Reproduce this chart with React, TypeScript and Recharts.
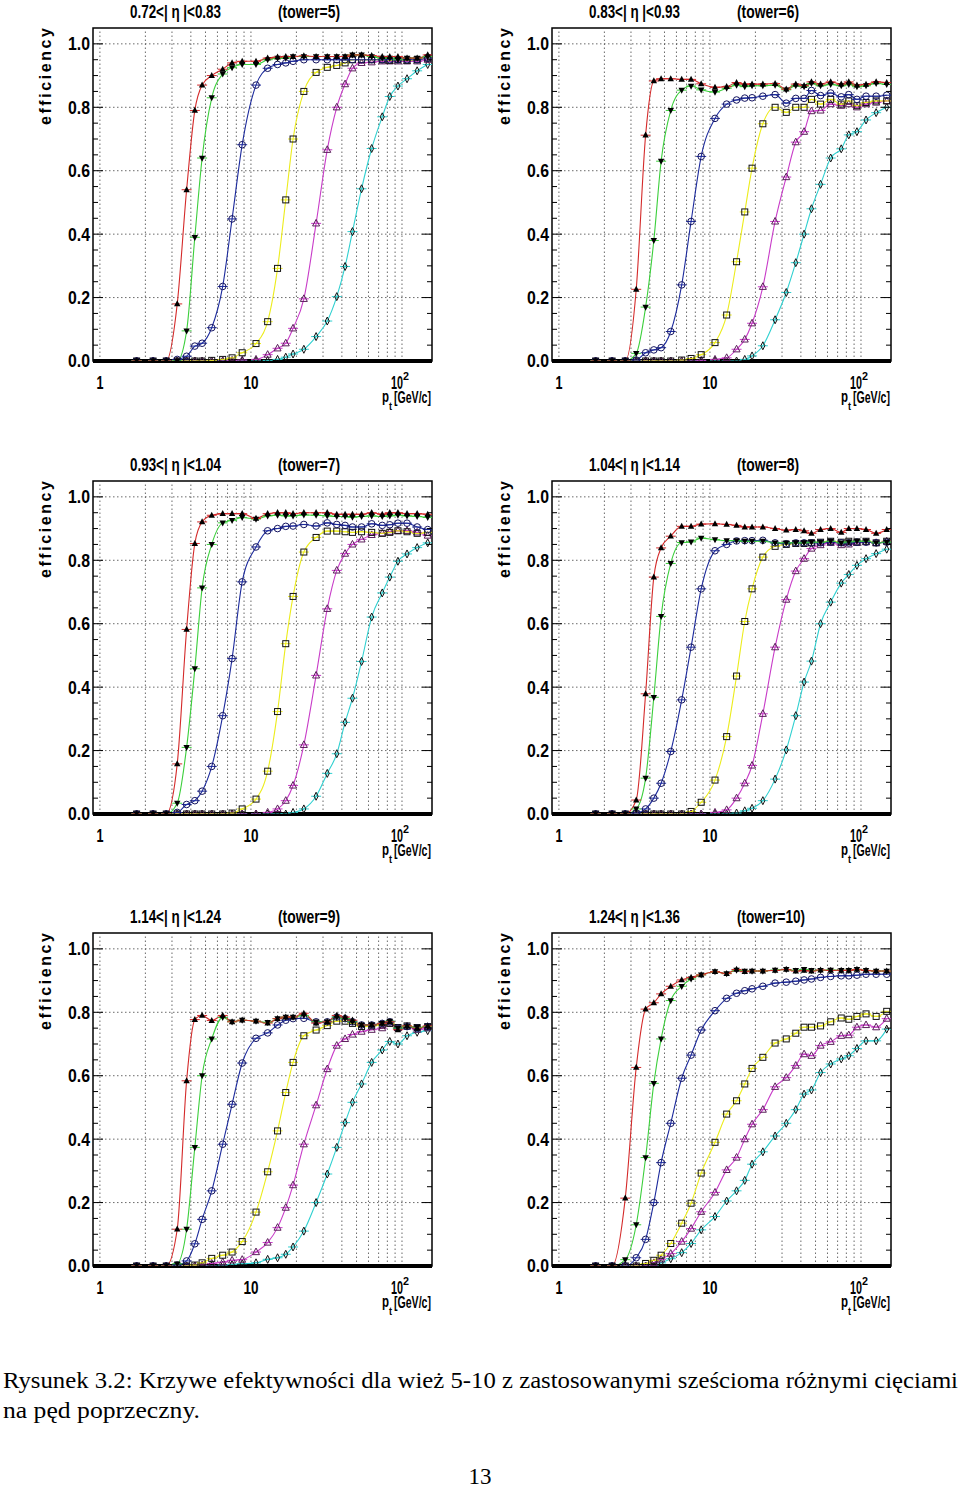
import React from "react";
import { LineChart, Line, XAxis, YAxis, ReferenceLine, ReferenceArea } from "recharts";

// pt bin centres [GeV/c], shared by all towers
const PT = [1.75, 2.25, 2.75, 3.25, 3.75, 4.25, 4.75, 5.5, 6.5, 7.5, 8.75, 10.8, 12.9, 15, 17, 19, 22.4, 27, 32, 37, 42, 47, 54, 63, 74, 83, 94, 108, 126, 148];

// tower 5
const T5_RED = [0, 0, 0, 0.18, 0.54, 0.79, 0.87, 0.9, 0.92, 0.94, 0.945, 0.945, 0.955, 0.958, 0.96, 0.96, 0.962, 0.96, 0.96, 0.96, 0.96, 0.965, 0.965, 0.963, 0.96, 0.96, 0.96, 0.955, 0.955, 0.965];
const T5_GREEN = [0, 0, 0, 0, 0.095, 0.39, 0.64, 0.83, 0.905, 0.925, 0.935, 0.935, 0.95, 0.955, 0.955, 0.96, 0.96, 0.96, 0.96, 0.96, 0.96, 0.965, 0.965, 0.96, 0.955, 0.955, 0.95, 0.955, 0.955, 0.96];
const T5_BLUE = [0, 0, 0, 0.005, 0.015, 0.047, 0.056, 0.105, 0.235, 0.448, 0.682, 0.87, 0.923, 0.935, 0.94, 0.945, 0.95, 0.95, 0.95, 0.95, 0.95, 0.95, 0.95, 0.95, 0.95, 0.95, 0.95, 0.95, 0.95, 0.955];
const T5_YELLOW = [0, 0, 0, 0, 0, 0, 0, 0.002, 0.005, 0.01, 0.026, 0.055, 0.124, 0.292, 0.508, 0.7, 0.85, 0.91, 0.926, 0.932, 0.94, 0.95, 0.95, 0.95, 0.95, 0.948, 0.95, 0.948, 0.95, 0.955];
const T5_MAGENTA = [0, 0, 0, 0, 0, 0, 0, 0, 0, 0.002, 0.003, 0.005, 0.02, 0.04, 0.056, 0.103, 0.196, 0.434, 0.666, 0.8, 0.873, 0.923, 0.94, 0.942, 0.945, 0.945, 0.945, 0.945, 0.945, 0.95];
const T5_CYAN = [0, 0, 0, 0, 0, 0, 0, 0, 0, 0, 0, 0, 0.002, 0.005, 0.012, 0.022, 0.037, 0.077, 0.126, 0.203, 0.298, 0.408, 0.543, 0.67, 0.77, 0.834, 0.867, 0.89, 0.915, 0.935];

// tower 6
const T6_RED = [0, 0, 0, 0.226, 0.712, 0.883, 0.89, 0.89, 0.888, 0.888, 0.874, 0.863, 0.865, 0.878, 0.873, 0.873, 0.873, 0.875, 0.857, 0.873, 0.868, 0.88, 0.873, 0.88, 0.873, 0.88, 0.87, 0.872, 0.88, 0.878];
const T6_GREEN = [0, 0, 0, 0.024, 0.17, 0.38, 0.63, 0.79, 0.854, 0.867, 0.855, 0.848, 0.86, 0.87, 0.865, 0.868, 0.868, 0.87, 0.855, 0.868, 0.865, 0.875, 0.868, 0.872, 0.868, 0.872, 0.865, 0.868, 0.875, 0.872];
const T6_BLUE = [0, 0, 0, 0.003, 0.026, 0.035, 0.042, 0.093, 0.24, 0.44, 0.645, 0.765, 0.81, 0.823, 0.829, 0.83, 0.835, 0.84, 0.813, 0.828, 0.828, 0.853, 0.837, 0.845, 0.833, 0.84, 0.825, 0.835, 0.835, 0.838];
const T6_YELLOW = [0, 0, 0, 0, 0, 0, 0, 0, 0.003, 0.008, 0.02, 0.058, 0.145, 0.313, 0.47, 0.608, 0.748, 0.8, 0.784, 0.8, 0.8, 0.825, 0.81, 0.825, 0.81, 0.82, 0.805, 0.815, 0.82, 0.82];
const T6_MAGENTA = [0, 0, 0, 0, 0, 0, 0, 0, 0, 0, 0.002, 0.005, 0.01, 0.037, 0.068, 0.119, 0.234, 0.44, 0.58, 0.69, 0.723, 0.788, 0.79, 0.81, 0.805, 0.81, 0.8, 0.81, 0.815, 0.82];
const T6_CYAN = [0, 0, 0, 0, 0, 0, 0, 0, 0, 0, 0, 0, 0, 0, 0.005, 0.016, 0.048, 0.13, 0.216, 0.31, 0.4, 0.48, 0.557, 0.64, 0.669, 0.713, 0.723, 0.76, 0.783, 0.8];

// tower 7
const T7_RED = [0, 0, 0, 0.158, 0.582, 0.853, 0.921, 0.942, 0.947, 0.947, 0.947, 0.932, 0.947, 0.95, 0.95, 0.947, 0.95, 0.95, 0.95, 0.945, 0.945, 0.945, 0.945, 0.95, 0.945, 0.95, 0.95, 0.947, 0.947, 0.945];
const T7_GREEN = [0, 0, 0, 0.034, 0.21, 0.458, 0.713, 0.85, 0.918, 0.926, 0.935, 0.93, 0.94, 0.942, 0.94, 0.94, 0.943, 0.942, 0.94, 0.938, 0.938, 0.936, 0.938, 0.94, 0.938, 0.94, 0.942, 0.94, 0.938, 0.935];
const T7_BLUE = [0, 0, 0, 0.005, 0.03, 0.042, 0.072, 0.15, 0.31, 0.49, 0.732, 0.842, 0.893, 0.9, 0.907, 0.908, 0.913, 0.908, 0.918, 0.913, 0.91, 0.905, 0.905, 0.915, 0.91, 0.912, 0.917, 0.917, 0.905, 0.897];
const T7_YELLOW = [0, 0, 0, 0, 0, 0, 0, 0, 0, 0.003, 0.016, 0.047, 0.135, 0.323, 0.537, 0.686, 0.826, 0.872, 0.892, 0.892, 0.89, 0.888, 0.89, 0.888, 0.885, 0.888, 0.893, 0.89, 0.885, 0.888];
const T7_MAGENTA = [0, 0, 0, 0, 0, 0, 0, 0, 0, 0, 0, 0, 0.005, 0.016, 0.042, 0.09, 0.218, 0.437, 0.647, 0.768, 0.821, 0.85, 0.866, 0.88, 0.885, 0.89, 0.893, 0.893, 0.888, 0.878];
const T7_CYAN = [0, 0, 0, 0, 0, 0, 0, 0, 0, 0, 0, 0, 0, 0, 0, 0.005, 0.016, 0.056, 0.128, 0.19, 0.289, 0.365, 0.481, 0.621, 0.697, 0.747, 0.797, 0.82, 0.84, 0.855];

// tower 8
const T8_RED = [0, 0, 0, 0.044, 0.379, 0.747, 0.839, 0.876, 0.907, 0.907, 0.914, 0.915, 0.913, 0.91, 0.905, 0.905, 0.905, 0.9, 0.895, 0.897, 0.893, 0.885, 0.897, 0.9, 0.888, 0.9, 0.9, 0.897, 0.885, 0.897];
const T8_GREEN = [0, 0, 0, 0.016, 0.113, 0.368, 0.623, 0.79, 0.856, 0.858, 0.87, 0.865, 0.862, 0.862, 0.86, 0.86, 0.86, 0.855, 0.855, 0.855, 0.855, 0.857, 0.857, 0.86, 0.855, 0.858, 0.86, 0.86, 0.855, 0.857];
const T8_BLUE = [0, 0, 0, 0.003, 0.016, 0.05, 0.097, 0.197, 0.36, 0.526, 0.71, 0.83, 0.85, 0.861, 0.862, 0.862, 0.863, 0.855, 0.852, 0.855, 0.855, 0.855, 0.855, 0.857, 0.855, 0.855, 0.857, 0.857, 0.855, 0.857];
const T8_YELLOW = [0, 0, 0, 0, 0, 0, 0, 0, 0, 0.008, 0.037, 0.107, 0.244, 0.435, 0.607, 0.71, 0.81, 0.844, 0.85, 0.853, 0.853, 0.855, 0.857, 0.86, 0.857, 0.86, 0.858, 0.86, 0.855, 0.86];
const T8_MAGENTA = [0, 0, 0, 0, 0, 0, 0, 0, 0, 0, 0, 0.005, 0.013, 0.05, 0.097, 0.153, 0.316, 0.526, 0.676, 0.766, 0.805, 0.837, 0.848, 0.855, 0.848, 0.85, 0.855, 0.857, 0.855, 0.86];
const T8_CYAN = [0, 0, 0, 0, 0, 0, 0, 0, 0, 0, 0, 0, 0, 0.003, 0.01, 0.018, 0.042, 0.11, 0.202, 0.31, 0.416, 0.482, 0.6, 0.668, 0.728, 0.755, 0.784, 0.805, 0.821, 0.835];

// tower 9
const T9_RED = [0, 0, 0, 0.116, 0.584, 0.777, 0.79, 0.774, 0.79, 0.77, 0.775, 0.772, 0.766, 0.78, 0.785, 0.785, 0.797, 0.766, 0.77, 0.79, 0.785, 0.775, 0.76, 0.76, 0.765, 0.77, 0.745, 0.757, 0.75, 0.757];
const T9_GREEN = [0, 0, 0, 0.007, 0.116, 0.374, 0.6, 0.716, 0.784, 0.77, 0.775, 0.772, 0.768, 0.78, 0.785, 0.785, 0.79, 0.77, 0.77, 0.785, 0.78, 0.77, 0.76, 0.76, 0.765, 0.772, 0.75, 0.755, 0.752, 0.755];
const T9_BLUE = [0, 0, 0, 0.003, 0.016, 0.07, 0.147, 0.237, 0.384, 0.51, 0.64, 0.718, 0.735, 0.76, 0.775, 0.78, 0.781, 0.77, 0.77, 0.785, 0.78, 0.77, 0.76, 0.76, 0.765, 0.77, 0.75, 0.755, 0.75, 0.755];
const T9_YELLOW = [0, 0, 0, 0, 0, 0.003, 0.01, 0.024, 0.034, 0.044, 0.077, 0.17, 0.297, 0.426, 0.547, 0.642, 0.726, 0.744, 0.758, 0.772, 0.772, 0.765, 0.755, 0.757, 0.76, 0.765, 0.752, 0.757, 0.752, 0.755];
const T9_MAGENTA = [0, 0, 0, 0, 0, 0, 0.003, 0.008, 0.012, 0.018, 0.02, 0.044, 0.074, 0.121, 0.184, 0.255, 0.384, 0.507, 0.621, 0.695, 0.716, 0.73, 0.739, 0.745, 0.75, 0.765, 0.75, 0.755, 0.745, 0.75];
const T9_CYAN = [0, 0, 0, 0, 0, 0, 0, 0, 0.003, 0.005, 0.007, 0.01, 0.021, 0.026, 0.037, 0.06, 0.11, 0.2, 0.29, 0.374, 0.452, 0.516, 0.574, 0.642, 0.681, 0.708, 0.7, 0.726, 0.737, 0.742];

// tower 10
const T10_RED = [0, 0, 0.214, 0.626, 0.81, 0.83, 0.858, 0.882, 0.902, 0.91, 0.918, 0.928, 0.922, 0.935, 0.928, 0.93, 0.93, 0.932, 0.935, 0.93, 0.932, 0.93, 0.933, 0.932, 0.932, 0.932, 0.935, 0.932, 0.93, 0.93];
const T10_GREEN = [0, 0, 0.02, 0.13, 0.342, 0.576, 0.716, 0.837, 0.882, 0.905, 0.918, 0.928, 0.922, 0.933, 0.93, 0.93, 0.93, 0.933, 0.935, 0.932, 0.935, 0.932, 0.932, 0.933, 0.932, 0.932, 0.935, 0.932, 0.93, 0.93];
const T10_BLUE = [0, 0, 0, 0.026, 0.084, 0.2, 0.326, 0.45, 0.592, 0.665, 0.744, 0.805, 0.844, 0.86, 0.868, 0.874, 0.882, 0.892, 0.895, 0.898, 0.902, 0.905, 0.91, 0.913, 0.915, 0.915, 0.917, 0.92, 0.92, 0.92];
const T10_YELLOW = [0, 0, 0, 0, 0.008, 0.018, 0.034, 0.071, 0.135, 0.198, 0.293, 0.39, 0.479, 0.521, 0.574, 0.623, 0.658, 0.703, 0.716, 0.734, 0.753, 0.753, 0.757, 0.77, 0.782, 0.778, 0.787, 0.795, 0.787, 0.803];
const T10_MAGENTA = [0, 0, 0, 0, 0, 0.01, 0.021, 0.039, 0.077, 0.118, 0.171, 0.232, 0.303, 0.342, 0.4, 0.447, 0.493, 0.565, 0.594, 0.632, 0.668, 0.663, 0.695, 0.707, 0.726, 0.728, 0.753, 0.76, 0.753, 0.78];
const T10_CYAN = [0, 0, 0, 0, 0, 0, 0.01, 0.023, 0.042, 0.071, 0.114, 0.156, 0.205, 0.237, 0.27, 0.321, 0.36, 0.41, 0.45, 0.493, 0.542, 0.555, 0.61, 0.637, 0.653, 0.663, 0.686, 0.71, 0.71, 0.747];

const PANEL_ETA = ["0.72<| η |<0.83", "0.83<| η |<0.93", "0.93<| η |<1.04", "1.04<| η |<1.14", "1.14<| η |<1.24", "1.24<| η |<1.36"];
const PANEL_TOWER = ["(tower=5)", "(tower=6)", "(tower=7)", "(tower=8)", "(tower=9)", "(tower=10)"];
const PANEL_SERIES = [
  [T5_RED, T5_GREEN, T5_BLUE, T5_YELLOW, T5_MAGENTA, T5_CYAN],
  [T6_RED, T6_GREEN, T6_BLUE, T6_YELLOW, T6_MAGENTA, T6_CYAN],
  [T7_RED, T7_GREEN, T7_BLUE, T7_YELLOW, T7_MAGENTA, T7_CYAN],
  [T8_RED, T8_GREEN, T8_BLUE, T8_YELLOW, T8_MAGENTA, T8_CYAN],
  [T9_RED, T9_GREEN, T9_BLUE, T9_YELLOW, T9_MAGENTA, T9_CYAN],
  [T10_RED, T10_GREEN, T10_BLUE, T10_YELLOW, T10_MAGENTA, T10_CYAN],
];

const X_TICKS = [1, 10, 100];
const Y_TICKS = [0, 0.05, 0.1, 0.15, 0.2, 0.25, 0.3, 0.35, 0.4, 0.45, 0.5, 0.55, 0.6, 0.65, 0.7, 0.75, 0.8, 0.85, 0.9, 0.95, 1.0];
const GRID_X = [1, 2, 3, 4, 5, 6, 7, 8, 9, 10, 20, 30, 40, 50, 60, 70, 80, 90, 100];
const GRID_Y = [0.2, 0.4, 0.6, 0.8, 1.0];

const SERIES_STYLE = [
  { line: "#d42a2a", marker: "up" },
  { line: "#3ccf3c", marker: "down" },
  { line: "#1c2a9c", marker: "circle" },
  { line: "#ecec1c", marker: "square" },
  { line: "#c83cc8", marker: "openup" },
  { line: "#30d0d0", marker: "diamond" },
];

// frame top-left of each pad on the page
const PANEL_POS = [[93, 28], [552, 28], [93, 481], [552, 481], [93, 933], [552, 933]];

const FW = 339;
const FH = 333;
const CW = 480;
const CH = 440;
const ML = 33;
const YW = 60;
const MT = 28;
const XH = 30;
const PL = ML + YW;
const PR = PL + FW;

const BOLD = "'Liberation Sans', Arial, Helvetica, sans-serif";
const SERIF = "'Liberation Serif', 'DejaVu Serif', serif";

function YTick(props: any) {
  const { y, payload } = props;
  const v = payload.value;
  const major = Math.round(v * 100) % 20 === 0;
  const len = major ? 10 : 5;
  return (
    <g>
      <line x1={PL} x2={PL + len} y1={y} y2={y} stroke="#000" strokeWidth={1} />
      <line x1={PR - len} x2={PR} y1={y} y2={y} stroke="#000" strokeWidth={1} />
      {major && (
        <text x={PL - 25} y={y} dy="0.36em" fontFamily={BOLD} fontWeight="bold" fontSize={18} textLength={22} lengthAdjust="spacingAndGlyphs" fill="#000">
          {v.toFixed(1)}
        </text>
      )}
    </g>
  );
}

function XTick(props: any) {
  const { x, payload } = props;
  const v = payload.value;
  const by = MT + FH + 28;
  if (v === 100) {
    return (
      <g>
        <text x={x - 11} y={by} fontFamily={BOLD} fontWeight="bold" fontSize={19} textLength={12} lengthAdjust="spacingAndGlyphs" fill="#000">
          10
        </text>
        <text x={x + 1} y={by - 9} fontFamily={BOLD} fontWeight="bold" fontSize={11} textLength={6} lengthAdjust="spacingAndGlyphs" fill="#000">
          2
        </text>
      </g>
    );
  }
  const w = v === 1 ? 7 : 15;
  return (
    <text x={x - w / 2} y={by} fontFamily={BOLD} fontWeight="bold" fontSize={19} textLength={w} lengthAdjust="spacingAndGlyphs" fill="#000">
      {v}
    </text>
  );
}

function makeDot(style: { line: string; marker: string }) {
  return (p: any) => {
    const { cx, cy, index } = p;
    if (cx == null || cy == null) return <g key={"d" + index} />;
    let shape: any = null;
    if (style.marker === "up") {
      shape = <polygon points={`${cx},${cy - 3.6} ${cx + 3.2},${cy + 2.4} ${cx - 3.2},${cy + 2.4}`} fill="#000" />;
    } else if (style.marker === "down") {
      shape = <polygon points={`${cx},${cy + 3.6} ${cx + 3.2},${cy - 2.4} ${cx - 3.2},${cy - 2.4}`} fill="#000" />;
    } else if (style.marker === "circle") {
      shape = <circle cx={cx} cy={cy} r={3.3} fill="none" stroke="#151560" strokeWidth={1} />;
    } else if (style.marker === "square") {
      shape = <rect x={cx - 3} y={cy - 3} width={6} height={6} fill="none" stroke="#111" strokeWidth={1} />;
    } else if (style.marker === "openup") {
      shape = <polygon points={`${cx},${cy - 4} ${cx + 3.5},${cy + 2.6} ${cx - 3.5},${cy + 2.6}`} fill="none" stroke="#5a1f5a" strokeWidth={1} />;
    } else {
      shape = <polygon points={`${cx},${cy - 4} ${cx + 2},${cy} ${cx},${cy + 4} ${cx - 2},${cy}`} fill="none" stroke="#111" strokeWidth={1} />;
    }
    return (
      <g key={"d" + index}>
        <line x1={cx - 5} x2={cx + 5} y1={cy} y2={cy} stroke={style.line} strokeWidth={1} />
        {shape}
      </g>
    );
  };
}

function Panel({ idx }: { idx: number }) {
  const [fx, fy] = PANEL_POS[idx];
  const series = PANEL_SERIES[idx];
  const data = PT.map((pt, i) => {
    const row: any = { pt };
    series.forEach((s, k) => {
      row["s" + k] = s[i];
    });
    return row;
  });
  const order = [5, 4, 3, 2, 1, 0];
  return (
    <div style={{ position: "absolute", left: fx - PL, top: fy - MT }}>
      <LineChart
        width={CW}
        height={CH}
        data={data}
        margin={{ top: MT, right: CW - PR, bottom: CH - MT - FH - XH, left: ML }}
      >
        <XAxis
          dataKey="pt"
          type="number"
          scale="log"
          domain={[0.9, 158]}
          allowDataOverflow
          ticks={X_TICKS}
          interval={0}
          tick={<XTick />}
          tickLine={false}
          axisLine={{ stroke: "#000", strokeWidth: 4 }}
          height={XH}
        />
        <YAxis
          type="number"
          domain={[0, 1.05]}
          allowDataOverflow
          ticks={Y_TICKS}
          interval={0}
          tick={<YTick />}
          tickLine={false}
          axisLine={false}
          width={YW}
        />
        {GRID_X.map((v) => (
          <ReferenceLine key={"gx" + v} x={v} stroke="#444" strokeWidth={0.8} strokeDasharray="1.5 2.5" />
        ))}
        {GRID_Y.map((v) => (
          <ReferenceLine key={"gy" + v} y={v} stroke="#444" strokeWidth={0.8} strokeDasharray="1.5 2.5" />
        ))}
        <ReferenceArea x1={0.9} x2={158} y1={0} y2={1.05} fill="none" fillOpacity={0} stroke="#000" strokeWidth={1.5} />
        {order.map((k) => (
          <Line
            key={"s" + k}
            dataKey={"s" + k}
            type="monotone"
            stroke={SERIES_STYLE[k].line}
            strokeWidth={1.1}
            dot={makeDot(SERIES_STYLE[k])}
            activeDot={false}
            isAnimationActive={false}
          />
        ))}
      </LineChart>
    </div>
  );
}

export default function App() {
  return (
    <div style={{ position: "absolute", left: 0, top: 0, width: 960, height: 1488, background: "#fff", overflow: "hidden" }}>
      <svg width={960} height={1488} style={{ position: "absolute", left: 0, top: 0 }}>
        {PANEL_POS.map(([fx, fy], i) => (
          <g key={"lab" + i} fontFamily={BOLD} fontWeight="bold" fill="#000">
            <text x={fx + 37} y={fy - 10} fontSize={19} textLength={91} lengthAdjust="spacingAndGlyphs">
              {PANEL_ETA[i]}
            </text>
            <text x={fx + 185} y={fy - 10} fontSize={19} textLength={i === 5 ? 68 : 62} lengthAdjust="spacingAndGlyphs">
              {PANEL_TOWER[i]}
            </text>
            <text
              transform={`translate(${fx - 42},${fy + 49}) rotate(-90)`}
              x={-48}
              fontSize={16}
              textLength={97}
              lengthAdjust="spacing"
            >
              efficiency
            </text>
            <text x={fx + 289} y={fy + FH + 41} fontSize={16} textLength={7} lengthAdjust="spacingAndGlyphs">
              p
            </text>
            <text x={fx + 296} y={fy + FH + 49} fontSize={10} textLength={3} lengthAdjust="spacingAndGlyphs">
              t
            </text>
            <text x={fx + 301} y={fy + FH + 42} fontSize={16} textLength={37} lengthAdjust="spacingAndGlyphs">
              [GeV/c]
            </text>
          </g>
        ))}
        <text x={3} y={1388} fontFamily={SERIF} fontSize={24} textLength={955} lengthAdjust="spacingAndGlyphs">
          Rysunek 3.2: Krzywe efektywności dla wież 5-10 z zastosowanymi sześcioma różnymi cięciami
        </text>
        <text x={3} y={1418} fontFamily={SERIF} fontSize={24} textLength={197} lengthAdjust="spacingAndGlyphs">
          na pęd poprzeczny.
        </text>
        <text x={480} y={1484} textAnchor="middle" fontFamily={SERIF} fontSize={23}>
          13
        </text>
      </svg>
      {PANEL_POS.map((_, i) => (
        <Panel key={"p" + i} idx={i} />
      ))}
    </div>
  );
}
